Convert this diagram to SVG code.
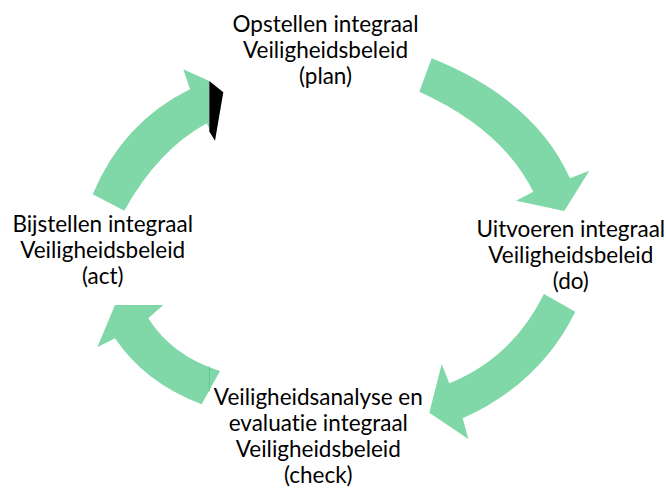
<svg xmlns="http://www.w3.org/2000/svg" width="666" height="489" viewBox="0 0 666 489">
<style>
.arrow{fill:#80D8A8;stroke:none}
.lbl{font-family:Lato,"Open Sans",sans-serif;font-size:22.5px;fill:#000;text-anchor:middle;font-variant-ligatures:none;font-feature-settings:"liga" 0,"clig" 0,"dlig" 0}
</style>
<rect width="666" height="489" fill="#fff"/>
<g id="connectors">
<path id="arrow-plan-do" class="arrow" d="M431.7,58.3 Q534.5,99.4 570,178.3 L589.3,170.7 L564.3,211 L516,200.7 L533.3,191.7 Q501.9,128.9 419.3,91.7 Z"/>
<path id="arrow-do-check" class="arrow" d="M575.3,311.7 Q540.1,383.5 462.7,418.3 L468.3,439 L429.3,412.7 L441.7,364 L449.3,383.3 Q511.9,358.3 544,294 Z"/>
<g id="arrow-check-act">
<path class="arrow" d="M220,371 L201.7,404.3 Q145,383 115,338.3 L97.3,347.3 L115,305 L163.3,305 L148.3,318.3 Q172,356 220,371 Z"/>
<line x1="209.3" y1="366.5" x2="209.3" y2="391.5" stroke="#5EC98A" stroke-width="1"/>
</g>
<g id="arrow-act-plan">
<path class="arrow" d="M92.7,194.3 Q123,122 190,89.3 L183.3,69.3 L209.3,81 L209.3,128.8 L206.7,123.3 Q158,150 124.3,210.7 Z"/>
<path fill="#000" d="M209.3,81 L223.3,92.3 L215,140.7 L209.3,131.5 Z"/>
</g>
</g>
<g id="node-plan">
<text class="lbl" x="325.5" y="31.5">Opstellen integraal</text>
<text class="lbl" x="325.5" y="57.5">Veiligheidsbeleid</text>
<text class="lbl" x="325.5" y="83.5">(plan)</text>
</g>
<g id="node-do">
<text class="lbl" x="570.8" y="236.5">Uitvoeren integraal</text>
<text class="lbl" x="570.8" y="262.5">Veiligheidsbeleid</text>
<text class="lbl" x="570.8" y="288.5">(do)</text>
</g>
<g id="node-check">
<text class="lbl" x="318.3" y="405">Veiligheidsanalyse en</text>
<text class="lbl" x="318.3" y="431">evaluatie integraal</text>
<text class="lbl" x="318.3" y="457">Veiligheidsbeleid</text>
<text class="lbl" x="318.3" y="483">(check)</text>
</g>
<g id="node-act">
<text class="lbl" x="102.7" y="231.5">Bijstellen integraal</text>
<text class="lbl" x="102.7" y="257.5">Veiligheidsbeleid</text>
<text class="lbl" x="102.7" y="283.5">(act)</text>
</g>
</svg>
